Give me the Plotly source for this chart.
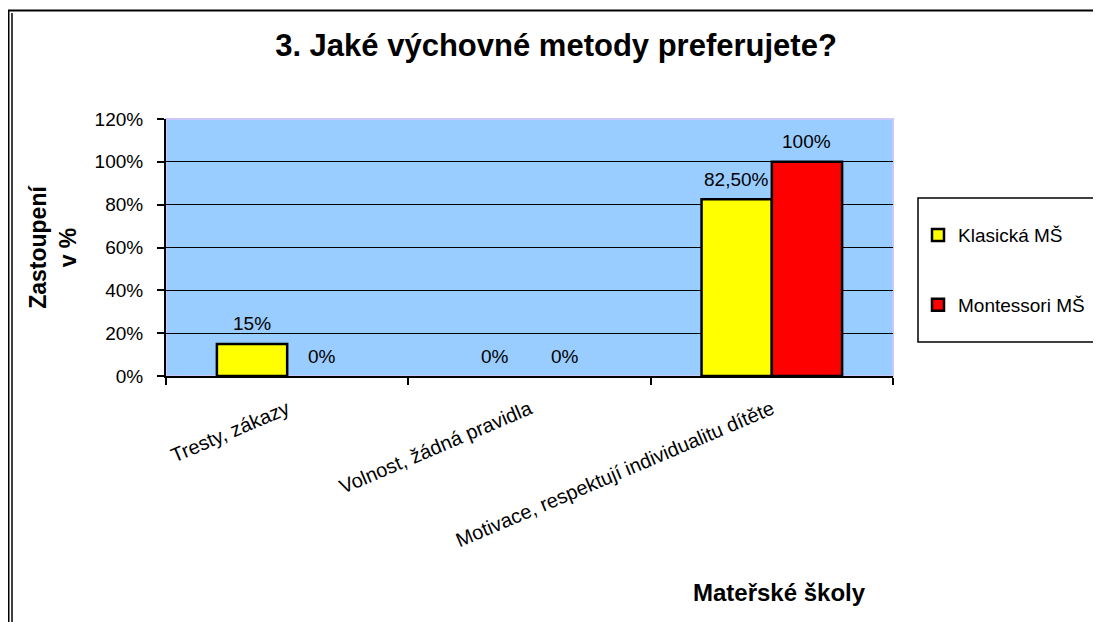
import plotly.graph_objects as go

categories = ["Tresty, zákazy", "Volnost, žádná pravidla", "Motivace, respektují individualitu dítěte"]
series_names = ["Klasická MŠ", "Montessori MŠ"]
klasicka = [0.15, 0.0, 0.825]
montessori = [0.0, 0.0, 1.0]
label_klasicka = ["15%", "0%", "82,50%"]
label_montessori = ["0%", "0%", "100%"]
y_ticks = [0, 0.2, 0.4, 0.6, 0.8, 1.0, 1.2]
y_ticklabels = ["0%", "20%", "40%", "60%", "80%", "100%", "120%"]

# page body has an 8px margin; target screen coords are compensated
OFF = 8
W, H = 1101 - OFF, 622 - OFF
ML, MR, MT, MB = 166 - OFF, 1101 - 893, 119 - OFF, 622 - 376
PW, PH = W - ML - MR, H - MT - MB
FONT = "Liberation Sans, Arial, sans-serif"


def px_x(px):
    return (px - OFF - ML) / PW


def px_y(py):
    return (OFF + H - MB - py) / PH


fig = go.Figure()
colors = ["#FFFF00", "#FF0000"]
groups = ["g1", "g2"]
for name, vals, col, grp in zip(series_names, [klasicka, montessori], colors, groups):
    # zero-height bars are not drawn (no outline), as in the original
    fig.add_trace(go.Bar(
        x=categories, y=[v if v > 0 else None for v in vals], name=name,
        legendgroup=grp,
        marker=dict(color=col, line=dict(color="black", width=2.5)),
    ))

annotations = []
for vals, labels, shift in [(klasicka, label_klasicka, -35), (montessori, label_montessori, 35)]:
    for c, v, t in zip(categories, vals, labels):
        annotations.append(dict(
            x=c, y=v, xref="x", yref="y", text=t, showarrow=False,
            xshift=shift, yshift=20, yanchor="middle",
            font=dict(family=FONT, size=19, color="black"),
        ))

annotations.append(dict(
    x=px_x(779), y=px_y(592), xref="paper", yref="paper",
    text="<b>Mateřské školy</b>", showarrow=False,
    xanchor="center", yanchor="middle",
    font=dict(family=FONT, size=24, color="black"),
))

shapes = [
    dict(type="rect", xref="paper", yref="paper", x0=0, x1=1, y0=0, y1=1,
         line=dict(color="#C8C8FF", width=2), layer="below"),
    # legend frame
    dict(type="rect", xref="paper", yref="paper",
         x0=px_x(918), x1=px_x(1097), y0=px_y(198), y1=px_y(342),
         line=dict(color="black", width=1.5)),
    # outer chart frame (top and left double line)
    dict(type="line", xref="paper", yref="paper",
         x0=px_x(8), x1=px_x(1101), y0=px_y(10.5), y1=px_y(10.5),
         line=dict(color="black", width=2)),
    dict(type="line", xref="paper", yref="paper",
         x0=px_x(8.5), x1=px_x(8.5), y0=px_y(10), y1=px_y(640),
         line=dict(color="black", width=2)),
    dict(type="line", xref="paper", yref="paper",
         x0=px_x(12), x1=px_x(12), y0=px_y(13), y1=px_y(640),
         line=dict(color="black", width=1.5)),
]

fig.update_layout(
    width=W, height=H,
    margin=dict(l=ML, r=MR, t=MT, b=MB, autoexpand=False),
    paper_bgcolor="white",
    plot_bgcolor="#99CCFF",
    font=dict(family=FONT, color="black"),
    title=dict(text="<b>3. Jaké výchovné metody preferujete?</b>", x=(556 - OFF) / W, xanchor="center",
               y=1 - (45 - OFF) / H, yanchor="middle",
               font=dict(family=FONT, size=31, color="black")),
    barmode="group", bargap=0.42, bargroupgap=0,
    showlegend=True,
    legend=dict(x=px_x(918), y=px_y(198), xanchor="left", yanchor="top",
                borderwidth=0, bgcolor="rgba(0,0,0,0)",
                font=dict(family=FONT, size=19, color="black"),
                title=dict(text=" ", font=dict(size=14)),
                traceorder="grouped", tracegroupgap=42,
                itemwidth=30),
    annotations=annotations,
    shapes=shapes,
)

fig.update_xaxes(
    type="category", showline=True, linecolor="black", linewidth=2,
    ticks="outside", tickson="boundaries", ticklen=7, tickcolor="black", tickwidth=2,
    tickangle=-23, ticklabelstandoff=12, automargin=False,
    tickfont=dict(family=FONT, size=20, color="black"),
    showgrid=False,
)
fig.update_yaxes(
    range=[0, 1.2], tickvals=y_ticks, ticktext=y_ticklabels,
    showline=True, linecolor="black", linewidth=2,
    ticks="outside", ticklen=7, tickcolor="black", tickwidth=2,
    ticklabelstandoff=10, automargin=False,
    showgrid=True, gridcolor="black", gridwidth=1, zeroline=False,
    tickfont=dict(family=FONT, size=19, color="black"),
    title=dict(text="<b>Zastoupení<br>v %</b>", standoff=12,
               font=dict(family=FONT, size=23, color="black")),
)

fig.write_html("out.html")
